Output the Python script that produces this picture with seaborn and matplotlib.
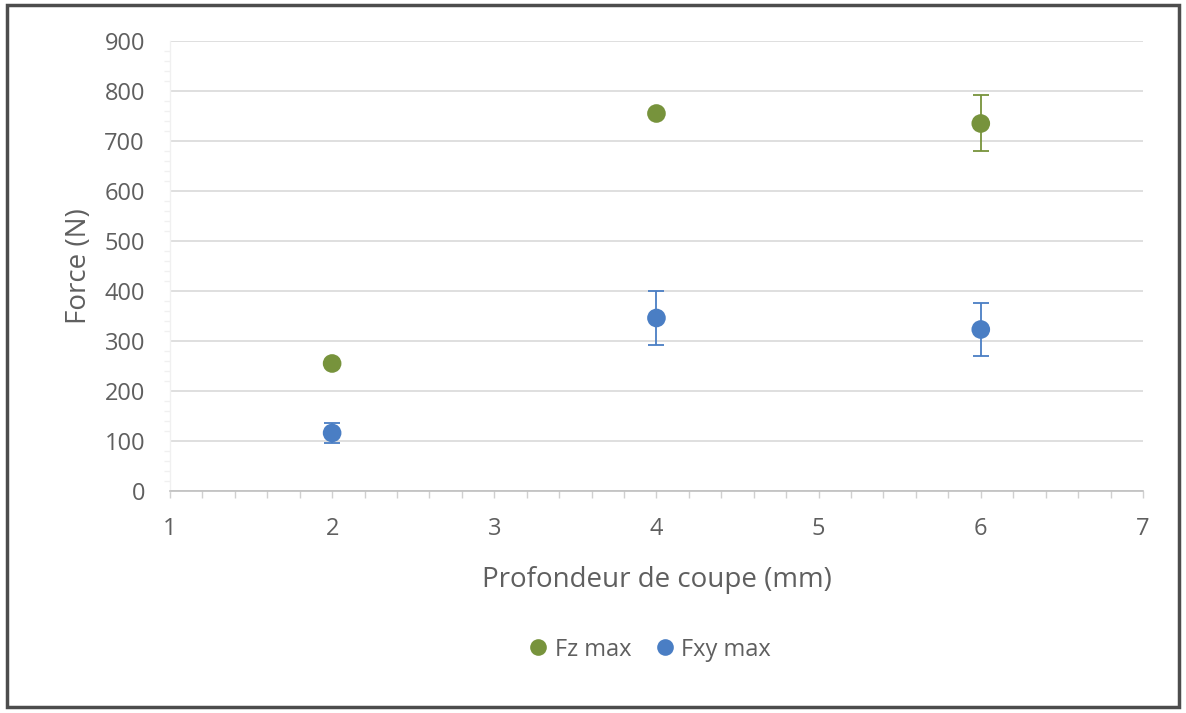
import matplotlib
matplotlib.use("Agg")
import matplotlib.pyplot as plt
from matplotlib.patches import Rectangle
from matplotlib.lines import Line2D
from matplotlib.ticker import MultipleLocator
import seaborn as sns
import pandas as pd

# Measured maximum cutting forces vs depth of cut
depth_mm = [2, 4, 6]
fz_max = [255, 755, 735]
fz_err = [0, 4, 56]
fxy_max = [116, 346, 323]
fxy_err = [20, 54, 53]
series_names = ["Fz max", "Fxy max"]

green = "#77933C"
blue = "#4A7EC4"
text_col = "#5F5F5F"

sns.set_theme(style="white")
plt.rcParams["font.family"] = ["Open Sans", "DejaVu Sans"]

df = pd.DataFrame({
    "depth": depth_mm * 2,
    "force": fz_max + fxy_max,
    "err": fz_err + fxy_err,
    "series": [series_names[0]] * 3 + [series_names[1]] * 3,
})

fig = plt.figure(figsize=(11.86, 7.13), dpi=100)
ax = fig.add_axes([0.1433, 0.3114, 0.8204, 0.6311])

palette = {series_names[0]: green, series_names[1]: blue}
for name, sub in df.groupby("series", sort=False):
    ax.errorbar(sub["depth"], sub["force"], yerr=sub["err"], fmt="none",
                ecolor=palette[name], elinewidth=1.3, capsize=6, capthick=1.3,
                zorder=2)
sns.scatterplot(data=df, x="depth", y="force", hue="series", palette=palette,
                s=180, edgecolor="none", ax=ax, legend=False, zorder=3)

ax.set_xlim(1, 7)
ax.set_ylim(0, 900)
ax.xaxis.set_major_locator(MultipleLocator(1))
ax.xaxis.set_minor_locator(MultipleLocator(0.2))
ax.yaxis.set_major_locator(MultipleLocator(100))
ax.yaxis.set_minor_locator(MultipleLocator(20))
ax.grid(axis="y", which="major", color="#D9D9D9", linewidth=1.2)
ax.set_axisbelow(True)

for side in ["top", "right"]:
    ax.spines[side].set_visible(False)
ax.spines["bottom"].set_color("#BFBFBF")
ax.spines["bottom"].set_linewidth(1.2)
ax.spines["left"].set_color("#F0F0F0")
ax.spines["left"].set_linewidth(1.0)

ax.tick_params(axis="x", which="both", direction="out", length=5, width=1,
               color="#D0D0D0", bottom=True, labelsize=17, labelcolor=text_col,
               pad=14)
ax.tick_params(axis="x", which="minor", length=5)
ax.tick_params(axis="y", which="major", length=0, labelsize=17,
               labelcolor=text_col, pad=18)
ax.tick_params(axis="y", which="minor", left=True, length=4, width=1,
               color="#F0F0F0", direction="out")

ax.set_xlabel("Profondeur de coupe (mm)", fontsize=20, color=text_col,
              labelpad=18)
ax.set_ylabel("Force (N)", fontsize=20, color=text_col, labelpad=8)

handles = [Line2D([0], [0], marker="o", linestyle="none", markersize=12,
                  markerfacecolor=palette[n], markeredgecolor="none")
           for n in series_names]
fig.legend(handles, series_names, loc="center", bbox_to_anchor=(0.547, 0.089),
           ncol=2, frameon=False, fontsize=17, labelcolor=text_col,
           handlelength=1.0, handletextpad=0.2, columnspacing=0.9)

fig.patches.append(Rectangle((0.006, 0.008), 0.988, 0.985,
                             transform=fig.transFigure, fill=False,
                             edgecolor="#4D4D4D", linewidth=2.5))

fig.savefig("out.png", dpi=100)
